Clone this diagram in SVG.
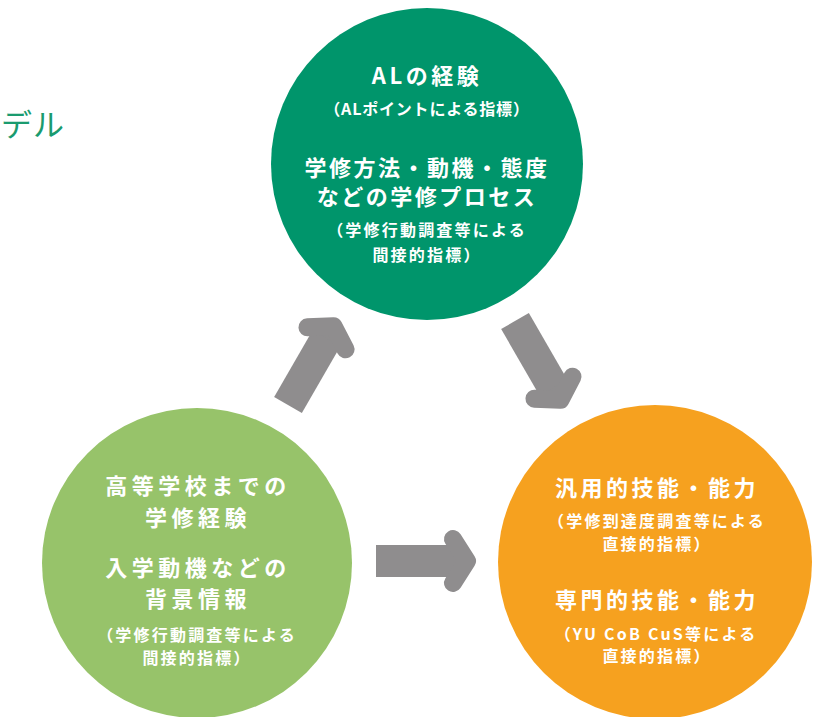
<svg xmlns="http://www.w3.org/2000/svg" xmlns:xlink="http://www.w3.org/1999/xlink" width="813" height="717" viewBox="0 0 813 717">
  <style>
    text { font-family: "Noto Sans CJK JP", "Noto Sans", sans-serif; fill: #ffffff; text-anchor: middle; font-weight: 700; }
    .t { font-size: 22px; letter-spacing: 2.5px; }
    .tw { font-size: 22px; letter-spacing: 4.5px; }
    .s { font-size: 16px; letter-spacing: 2.2px; }
    .arrow { fill: #8f8d8e; stroke: #8f8d8e; }
    .heading { fill: #1a9b6f; font-weight: 400; font-size: 31px; text-anchor: start; letter-spacing: 1px; }
  </style>
  <defs>
    <g id="arrow" class="arrow">
      <rect x="0" y="-16" width="86" height="32" stroke="none"/>
      <polyline points="77,-22 91,0 77,22" stroke-width="18" stroke-linejoin="round" stroke-linecap="round"/>
    </g>
  </defs>
  <rect width="813" height="717" fill="#ffffff"/>
  <text class="heading" x="1" y="136">デル</text>

  <g id="connectors">
    <use xlink:href="#arrow" href="#arrow" transform="translate(288,405) rotate(-60)"/>
    <use xlink:href="#arrow" href="#arrow" transform="translate(515,321) rotate(60)"/>
    <use xlink:href="#arrow" href="#arrow" transform="translate(376,561)"/>
  </g>

  <g id="node-al">
    <circle cx="427" cy="164" r="156" fill="#00956b"/>
    <text class="t" x="427" y="84" style="letter-spacing:3.5px">ALの経験</text>
    <text class="s" x="427" y="115" style="letter-spacing:0.8px">（ALポイントによる指標）</text>
    <text class="t" x="427" y="176">学修方法・動機・態度</text>
    <text class="t" x="427" y="205">などの学修プロセス</text>
    <text class="s" x="427" y="236">（学修行動調査等による</text>
    <text class="s" x="427" y="261">間接的指標）</text>
  </g>

  <g id="node-background">
    <circle cx="197" cy="563" r="155" fill="#97c36a"/>
    <text class="tw" x="198" y="494">高等学校までの</text>
    <text class="tw" x="198" y="526">学修経験</text>
    <text class="tw" x="198" y="576">入学動機などの</text>
    <text class="tw" x="198" y="607">背景情報</text>
    <text class="s" x="197" y="641">（学修行動調査等による</text>
    <text class="s" x="197" y="664">間接的指標）</text>
  </g>

  <g id="node-skills">
    <circle cx="655" cy="562" r="157" fill="#f6a11f"/>
    <text class="t" x="657" y="496" style="letter-spacing:3.5px">汎用的技能・能力</text>
    <text class="s" x="657" y="527">（学修到達度調査等による</text>
    <text class="s" x="657" y="550">直接的指標）</text>
    <text class="t" x="657" y="608" style="letter-spacing:3.5px">専門的技能・能力</text>
    <text class="s" x="656" y="640">（YU CoB CuS等による</text>
    <text class="s" x="657" y="662">直接的指標）</text>
  </g>
</svg>
